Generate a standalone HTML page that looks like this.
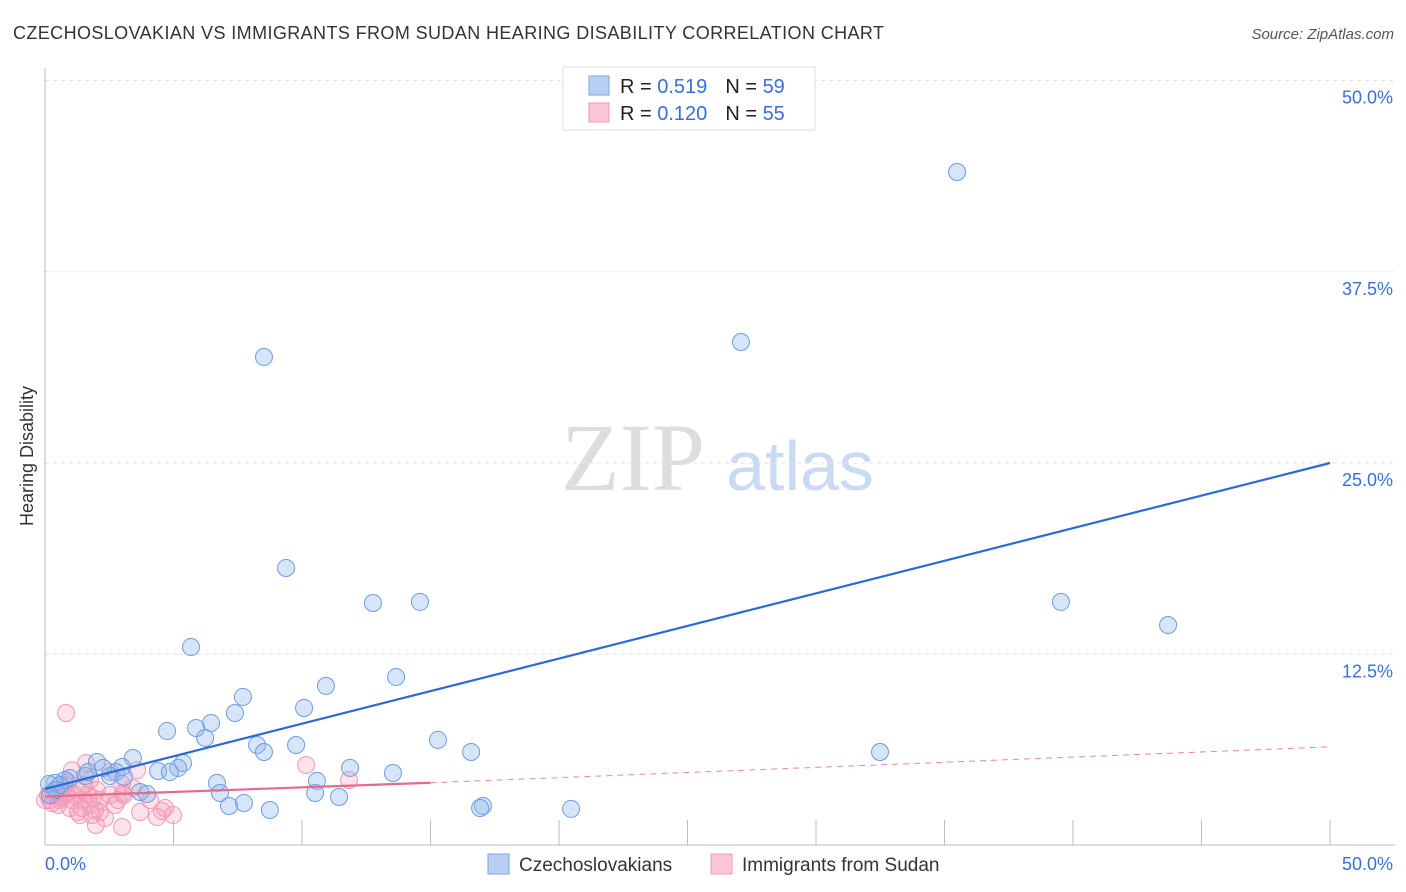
<!DOCTYPE html>
<html><head><meta charset="utf-8"><style>
body{margin:0;background:#fff;font-family:"Liberation Sans",sans-serif;}
svg{display:block}
</style></head><body>
<svg id="chart" width="1406" height="892" xmlns="http://www.w3.org/2000/svg">
<text x="13" y="39" font-size="18" fill="#333" textLength="871" lengthAdjust="spacing">CZECHOSLOVAKIAN VS IMMIGRANTS FROM SUDAN HEARING DISABILITY CORRELATION CHART</text>
<text x="1394" y="39" font-size="15" fill="#555" font-style="italic" text-anchor="end">Source: ZipAtlas.com</text>
<text x="633" y="490" font-size="96" fill="#ddd" font-family="Liberation Serif,serif" text-anchor="middle">ZIP</text>
<text x="800" y="490" font-size="70" fill="#c9daf2" text-anchor="middle">atlas</text>
<text transform="translate(33,456) rotate(-90)" font-size="18" fill="#333" text-anchor="middle">Hearing Disability</text>
<g id="grid"></g><g id="marks"></g>
<g>
<rect x="563" y="67" width="252" height="63" fill="#fff" stroke="#ddd"/>
<rect x="589" y="76" width="20" height="19" fill="#b7d0f3" stroke="#7aa6e6"/>
<rect x="589" y="103" width="20" height="19" fill="#fac6d6" stroke="#f09ab5"/>
<text x="620" y="93" font-size="20" fill="#222">R = <tspan fill="#3a6fd8">0.519</tspan><tspan dx="18">N = </tspan><tspan fill="#3a6fd8">59</tspan></text>
<text x="620" y="120" font-size="20" fill="#222">R = <tspan fill="#3a6fd8">0.120</tspan><tspan dx="18">N = </tspan><tspan fill="#3a6fd8">55</tspan></text>
</g>
<g>
<rect x="488" y="854" width="21" height="20" fill="#b7d0f3" stroke="#7aa6e6"/>
<text x="519" y="871" font-size="19" fill="#333">Czechoslovakians</text>
<rect x="711" y="854" width="21" height="20" fill="#fac6d6" stroke="#f09ab5"/>
<text x="742" y="871" font-size="19" fill="#333">Immigrants from Sudan</text>
</g>
</svg>
<script>
const yTicks=[12.5,25,37.5,50];
const yTickLabels=["12.5%","25.0%","37.5%","50.0%"];
const xTickVals=[5,10,15,20,25,30,35,40,45,50];
const blueX=[35.49,27.08,8.52,9.38,12.76,14.59,39.53,43.70,5.68,13.66,10.93,7.70,10.08,7.39,6.46,4.75,5.88,6.23,15.29,8.25,9.77,8.52,16.58,32.49,3.42,2.02,3.00,5.37,5.18,11.87,4.40,4.86,2.76,2.53,3.07,13.54,1.56,0.97,0.78,0.39,0.16,6.69,10.58,6.81,3.70,3.97,10.51,11.44,7.74,7.16,8.75,17.04,16.93,20.47,0.43,0.58,2.26,0.19,1.67];
const blueY=[44.02,32.91,31.93,18.14,15.85,15.92,15.92,14.41,12.97,11.01,10.43,9.71,8.99,8.66,8.01,7.48,7.68,7.03,6.90,6.57,6.57,6.11,6.11,6.11,5.72,5.46,5.13,5.39,5.07,5.07,4.87,4.80,4.80,4.54,4.48,4.74,4.54,4.41,4.28,4.09,4.02,4.09,4.22,3.43,3.50,3.37,3.43,3.17,2.78,2.58,2.32,2.58,2.45,2.39,3.63,3.95,5.07,3.30,4.80];
const pinkX=[0.82,10.16,11.83,1.60,1.05,3.58,2.53,0.78,1.75,3.00,3.42,2.02,0.39,0.12,0.19,0.58,1.17,1.44,1.75,1.95,2.14,0.97,1.36,2.33,2.72,3.03,4.67,4.55,4.36,4.98,3.70,3.00,1.98,0.58,1.28,0.82,0.70,0.27,0,0.51,1.05,1.67,1.87,2.14,1.52,0.89,2.53,2.84,1.83,1.28,4.09,3.07,0.43,0.66,1.44];
const pinkY=[8.66,5.26,4.28,5.39,4.93,4.93,4.80,3.95,4.28,4.02,3.76,3.63,3.63,3.30,2.97,3.10,3.30,2.97,2.65,2.32,2.19,2.45,1.99,1.80,2.65,3.43,2.45,2.25,1.86,1.99,2.19,1.21,1.34,2.97,3.63,3.43,3.17,2.78,2.97,2.65,2.97,3.30,3.10,2.97,3.95,4.15,3.30,2.97,1.99,2.19,2.97,3.30,3.30,3.63,2.45];
const blueTrend=[0,3.7,50,25.0];
const pinkTrend=[0,3.2,15,4.1,50,6.45];
const X=v=>45+v/50*1285, Y=v=>845.5-v/50*765;
const NS="http://www.w3.org/2000/svg";
function mk(t,a,p){const e=document.createElementNS(NS,t);for(const k in a)e.setAttribute(k,a[k]);p.appendChild(e);return e;}
const grid=document.getElementById('grid'),marks=document.getElementById('marks');
yTicks.forEach((v,i)=>{
 const l=mk('line',{x1:45,x2:1395,y1:Y(v),y2:Y(v),stroke:'#e2e2e2','stroke-dasharray':'4,4'},grid);
 
 
 const t=mk('text',{x:1393,y:Y(v)+23,'font-size':18,fill:'#3a6fd8','text-anchor':'end'},grid);
 t.textContent=yTickLabels[i];
 
 
});
const ax=mk('line',{x1:45,x2:45,y1:68,y2:845,stroke:'#bbb'},grid);


const bx=mk('line',{x1:45,x2:1395,y1:845,y2:845,stroke:'#bbb'},grid);


xTickVals.forEach(v=>{
 const l=mk('line',{x1:X(v),x2:X(v),y1:820,y2:845,stroke:'#bbb'},grid);
 
 
});
const t0=mk('text',{x:45,y:870,'font-size':18,fill:'#3a6fd8'},grid);t0.textContent='0.0%';


const t1=mk('text',{x:1393,y:870,'font-size':18,fill:'#3a6fd8','text-anchor':'end'},grid);t1.textContent='50.0%';


pinkX.forEach((v,i)=>{
 const c=mk('circle',{cx:X(v),cy:Y(pinkY[i]),r:8.5,fill:'rgba(245,160,185,0.3)',stroke:'#f09ab5','stroke-width':1},marks);
 
 
});
blueX.forEach((v,i)=>{
 const c=mk('circle',{cx:X(v),cy:Y(blueY[i]),r:8.5,fill:'rgba(140,180,235,0.35)',stroke:'#6d9de2','stroke-width':1},marks);
 
 
});
const bl=mk('line',{x1:X(blueTrend[0]),y1:Y(blueTrend[1]),x2:X(blueTrend[2]),y2:Y(blueTrend[3]),stroke:'#2a6ad6','stroke-width':2.2},marks);


const pl=mk('line',{x1:X(pinkTrend[0]),y1:Y(pinkTrend[1]),x2:X(pinkTrend[2]),y2:Y(pinkTrend[3]),stroke:'#e86890','stroke-width':2.2},marks);


const pd=mk('line',{x1:X(pinkTrend[2]),y1:Y(pinkTrend[3]),x2:X(pinkTrend[4]),y2:Y(pinkTrend[5]),stroke:'#e886a4','stroke-width':1,'stroke-dasharray':'6,5'},marks);


</script>
</body></html>
